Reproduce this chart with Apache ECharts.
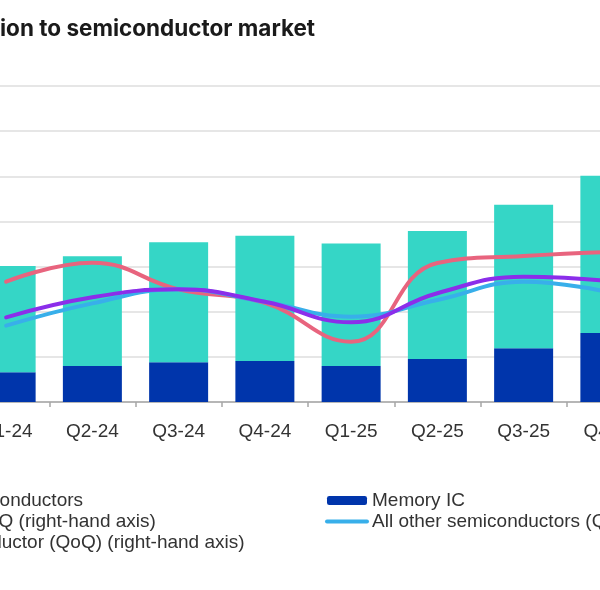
<!DOCTYPE html>
<html>
<head>
<meta charset="utf-8">
<style>
  html, body { margin: 0; padding: 0; overflow: hidden; width: 600px; height: 590px; background: #fff; }
  #chart { position: absolute; left: -200px; top: 0; width: 860px; height: 590px; }
</style>
<script src="https://cdn.jsdelivr.net/npm/echarts@6/dist/echarts.min.js"></script>
</head>
<body>
<div id="chart"></div>
<script>
// quarters
const categories = ['Q1-24', 'Q2-24', 'Q3-24', 'Q4-24', 'Q1-25', 'Q2-25', 'Q3-25', 'Q4-25']
// bars (left axis)
const memoryIC = [33, 40, 44, 45.5, 40, 47.5, 59.5, 76.5]
const otherSemis = [117.5, 121.5, 133, 138.5, 135.5, 142, 159, 174]
// QoQ growth, % (right axis)
const memoryQoQ = [13.3, 21.7, 9.9, 3.9, -13.3, 21.6, 24.7, 26.5]
const otherQoQ = [-6.2, 3.7, 9.9, 4.4, -2.2, 5.2, 13.3, 8.6]
const totalQoQ = [-2.5, 6.4, 9.9, 4.4, -4.7, 8.2, 15.5, 13.6]

const font = 'Liberation Sans, Arial, sans-serif'

const chart = echarts.init(document.getElementById('chart'))

const lineSeries = (name, data, color) => ({
  name,
  type: 'line',
  yAxisIndex: 1,
  data,
  smooth: 0.45,
  symbol: 'none',
  lineStyle: { width: 4, color, cap: 'round' },
  itemStyle: { color }
})

// line entries in the legend: plain thick line, no marker
const lineItem = name => ({ name, itemStyle: { opacity: 0 }, lineStyle: { width: 4, cap: 'round' } })

const legendBase = {
  orient: 'vertical',
  padding: 0,
  itemWidth: 40,
  itemHeight: 9,
  itemGap: 0,
  textStyle: { fontFamily: font, fontSize: 19, lineHeight: 21, color: '#333' }
}

chart.setOption({
  animation: false,
  title: {
    text: 'ion to semiconductor market',
    left: 195,
    top: 13,
    textStyle: { fontFamily: 'Inter, sans-serif', fontWeight: 700, fontSize: 22.5, color: '#1a1a1a' }
  },
  legend: [
    {
      ...legendBase,
      left: 28,
      top: 490,
      data: [
        'All other semiconductors',
        lineItem('Memory IC QoQ (right-hand axis)'),
        lineItem('Total semiconductor (QoQ) (right-hand axis)')
      ]
    },
    {
      ...legendBase,
      left: 525,
      top: 490,
      data: ['Memory IC', lineItem('All other semiconductors (QoQ) (right-hand axis)')]
    }
  ],
  grid: { left: 163, right: 7, top: 86, bottom: 188, containLabel: false, outerBoundsMode: 'none' },
  xAxis: {
    type: 'category',
    data: categories,
    axisLine: { lineStyle: { color: '#a6a6a6', width: 1.5 } },
    axisTick: { show: true, length: 5, lineStyle: { color: '#a6a6a6', width: 1.5 } },
    axisLabel: { fontFamily: font, fontSize: 19, color: '#333', margin: 20 }
  },
  yAxis: [
    {
      type: 'value',
      min: 0,
      max: 350,
      interval: 50,
      axisLabel: { show: false },
      axisLine: { show: false },
      axisTick: { show: false },
      splitLine: { lineStyle: { color: '#dedede', width: 1.5 } }
    },
    {
      type: 'value',
      min: -40,
      max: 100,
      interval: 20,
      axisLabel: { show: false },
      axisLine: { show: false },
      axisTick: { show: false },
      splitLine: { show: false }
    }
  ],
  series: [
    {
      name: 'Memory IC',
      type: 'bar',
      stack: 'total',
      data: memoryIC,
      barWidth: 59,
      itemStyle: { color: '#0035AB' }
    },
    {
      name: 'All other semiconductors',
      type: 'bar',
      stack: 'total',
      data: otherSemis,
      barWidth: 59,
      itemStyle: { color: '#35D6C6' }
    },
    lineSeries('Memory IC QoQ (right-hand axis)', memoryQoQ, '#E8647E'),
    lineSeries('All other semiconductors (QoQ) (right-hand axis)', otherQoQ, '#38AFEA'),
    lineSeries('Total semiconductor (QoQ) (right-hand axis)', totalQoQ, '#8B2EEA')
  ]
})
</script>
</body>
</html>
